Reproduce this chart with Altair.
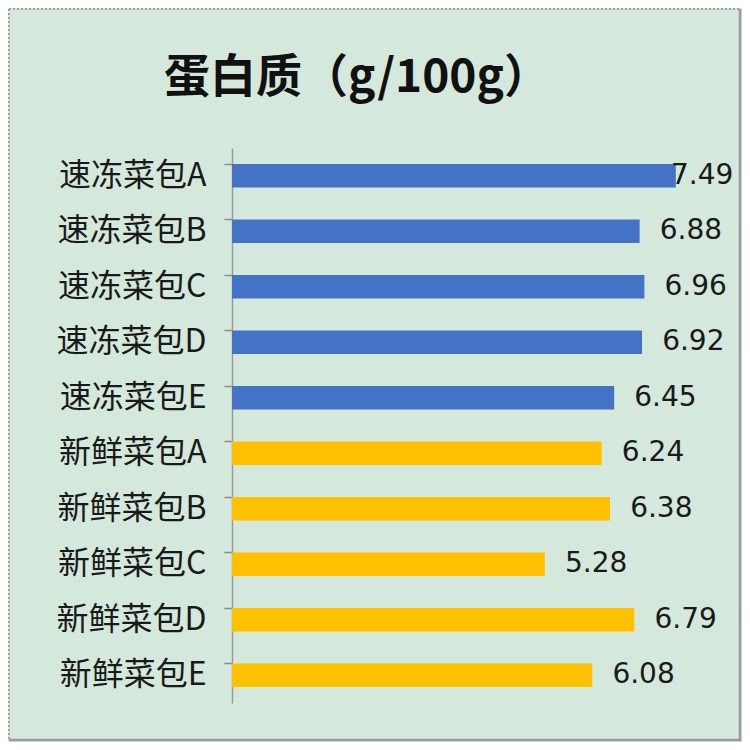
import altair as alt
import pandas as pd

title_text = "蛋白质（g/100g）"
categories = ["速冻菜包A", "速冻菜包B", "速冻菜包C", "速冻菜包D", "速冻菜包E",
              "新鲜菜包A", "新鲜菜包B", "新鲜菜包C", "新鲜菜包D", "新鲜菜包E"]
values = [7.49, 6.88, 6.96, 6.92, 6.45, 6.24, 6.38, 5.28, 6.79, 6.08]
groups = ["速冻", "速冻", "速冻", "速冻", "速冻", "新鲜", "新鲜", "新鲜", "新鲜", "新鲜"]
group_names = ["速冻", "新鲜"]
group_colors = ["#4472C4", "#FFC000"]

df = pd.DataFrame({"name": categories, "value": values, "group": groups})

y = alt.Y("name:N", sort=categories, title=None,
          scale=alt.Scale(paddingInner=0.58, paddingOuter=0.29),
          axis=alt.Axis(labelFont="Noto Sans CJK SC", labelFontSize=32, labelColor="#1a1a1a",
                        labelPadding=18, tickSize=8, tickColor="#8c8c8c", domainColor="#9a9a9a",
                        domainWidth=1.5, tickWidth=1.5, bandPosition=0, grid=False))
x = alt.X("value:Q", title=None, scale=alt.Scale(domain=[0, 8], nice=False), axis=None)

bars = alt.Chart(df).mark_bar().encode(
    y=y, x=x,
    color=alt.Color("group:N", scale=alt.Scale(domain=group_names, range=group_colors), legend=None),
)

labels = alt.Chart(df).transform_calculate(
    lx="min(datum.value + 0.34, 7.41)"
).mark_text(align="left", baseline="middle", font="DejaVu Sans", fontSize=28, color="#1a1a1a").encode(
    y=alt.Y("name:N", sort=categories),
    x=alt.X("lx:Q", scale=alt.Scale(domain=[0, 8], nice=False)),
    text=alt.Text("value:Q", format=".2f"),
)

one = alt.Chart(pd.DataFrame({"t": [title_text]}))
title_mark = one.mark_text(font="Noto Sans CJK SC", fontSize=46, fontWeight="bold", color="#111111",
                           align="center", baseline="middle").encode(
    text="t:N", x=alt.value(125), y=alt.value(-70))

# decorative frame around the whole chart (relative to plot area)
top_edge = one.mark_rule(color="#a0a0a0", strokeDash=[2, 2], strokeWidth=2).encode(
    x=alt.value(-223), x2=alt.value(509), y=alt.value(-139))
left_edge = one.mark_rule(color="#a0a0a0", strokeDash=[2, 2], strokeWidth=2).encode(
    x=alt.value(-223), y=alt.value(-139), y2=alt.value(593))
right_edge = one.mark_rule(color="#9a9a9a", strokeWidth=2.5).encode(
    x=alt.value(508), y=alt.value(-139), y2=alt.value(593))
bottom_edge = one.mark_rule(color="#9a9a9a", strokeWidth=2.5).encode(
    x=alt.value(-223), x2=alt.value(509), y=alt.value(592))

chart = (bars + labels + title_mark + top_edge + left_edge + right_edge + bottom_edge).properties(
    width=474, height=555,
    autosize=alt.AutoSizeParams(type="none"),
    padding={"left": 224, "top": 140, "right": 36, "bottom": 39},
    background="#d4e9dc",
).configure_view(stroke=None)

chart.save("out.html", embed_options={"renderer": "svg", "actions": False})
